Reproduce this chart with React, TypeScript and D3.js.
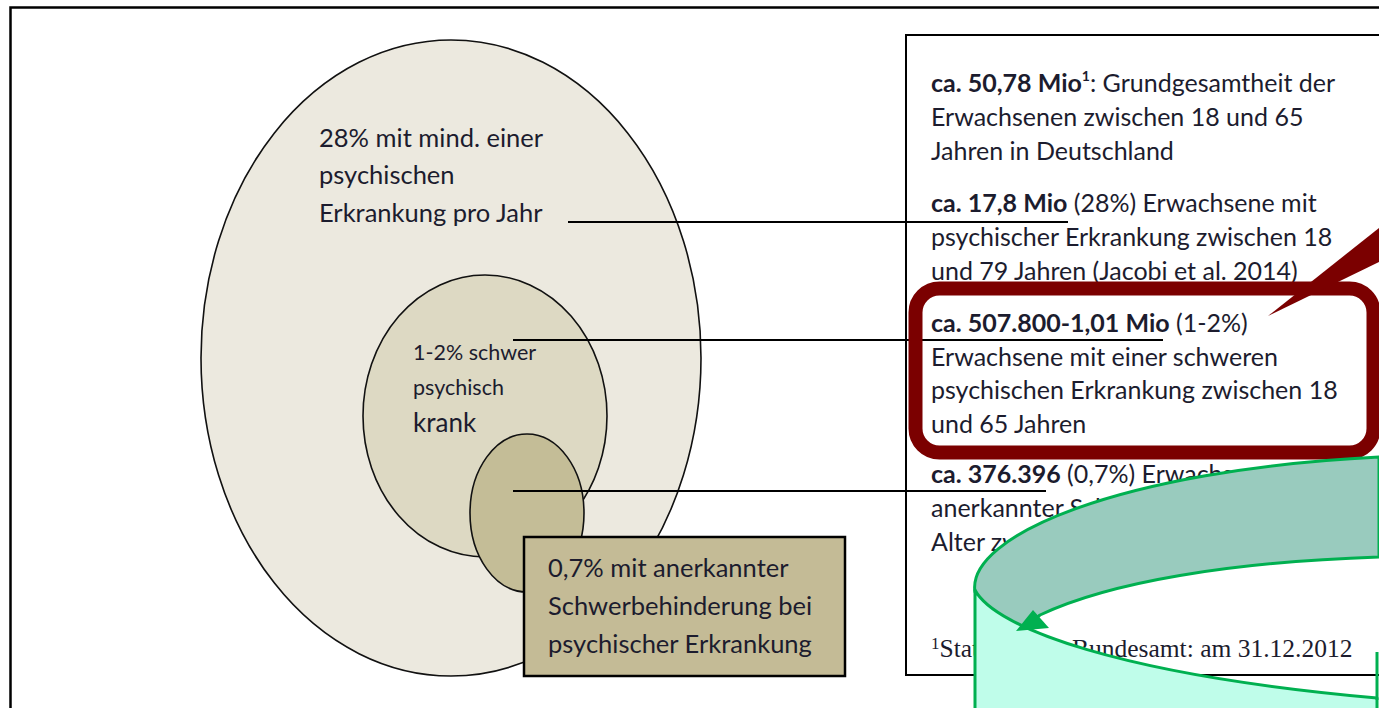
import React from 'react';
import * as d3 from 'd3';

// nested groups, outermost first
const circleLabels = [
  ['28% mit mind. einer', 'psychischen', 'Erkrankung pro Jahr'],
  ['1-2% schwer', 'psychisch', 'krank'],
  [],
];
const boxLabel = ['0,7% mit anerkannter', 'Schwerbehinderung bei', 'psychischer Erkrankung'];

const figures = ['ca. 50,78 Mio', 'ca. 17,8 Mio', 'ca. 507.800-1,01 Mio', 'ca. 376.396'];
const shares = ['', ' (28%)', ' (1-2%)', ' (0,7%)'];
const firstLineRest = [': Grundgesamtheit der', ' Erwachsene mit', '', ' Erwachsene mit'];
const moreLines = [
  ['Erwachsenen zwischen 18 und 65', 'Jahren in Deutschland'],
  ['psychischer Erkrankung zwischen 18', 'und 79 Jahren (Jacobi et al. 2014)'],
  ['Erwachsene mit einer schweren', 'psychischen Erkrankung zwischen 18', 'und 65 Jahren'],
  ['anerkannter Schwerbehinderung im', 'Alter zwischen 18 und 65 Jahren'],
];
const footnote = 'Statistisches Bundesamt: am 31.12.2012';

// layout
const ellipses = [
  { cx: 451, cy: 358, rx: 250, ry: 318, fill: '#ECE9DF' },
  { cx: 485, cy: 416, rx: 122, ry: 141, fill: '#DDD9C3' },
  { cx: 527, cy: 513, rx: 57, ry: 79, fill: '#C4BD97' },
];
const labelPos = [
  { x: 319, y: [147, 184, 222], size: [25.5, 25.5, 25.5] },
  { x: 413, y: [360, 395, 432], size: [21.5, 21.5, 26] },
];
const leaders = [
  { x1: 568, x2: 1068, y: 222 },
  { x1: 513, x2: 1163, y: 340 },
  { x1: 513, x2: 1046, y: 491 },
];
const blockTop = [92, 212, 332, 483];
const lineGap = 34;
const textColor = '#1C1C2E';
const font = 'Lato, "Open Sans", sans-serif';
const rightSize = 25;

export default function App() {
  const sansLines: JSX.Element[] = [];
  figures.forEach((f, i) => {
    const y0 = blockTop[i];
    sansLines.push(
      <text key={'h' + i} x={931} y={y0} fontSize={rightSize} fill={textColor} fontFamily={font}>
        <tspan fontWeight="bold">{f}</tspan>
        {i === 0 && <tspan fontWeight="bold" fontSize={14} dy={-11}>1</tspan>}
        {i === 0 ? <tspan dy={11}>{firstLineRest[i]}</tspan> : <tspan>{shares[i] + firstLineRest[i]}</tspan>}
      </text>
    );
    moreLines[i].forEach((l, j) => {
      sansLines.push(
        <text key={'l' + i + j} x={931} y={y0 + (j + 1) * (i === 2 ? 33.5 : lineGap)} fontSize={rightSize} fill={textColor} fontFamily={font}>{l}</text>
      );
    });
  });

  // red callout pointer
  const pointer = d3.line()([[1268, 316], [1379, 228], [1379, 262]]) + 'Z';

  // green curved ribbon arrow
  const band = d3.path();
  band.moveTo(975, 592);
  band.bezierCurveTo(966, 536, 1120, 470, 1379, 457);
  band.lineTo(1379, 557);
  band.bezierCurveTo(1230, 562, 1110, 582, 1040, 615);
  band.lineTo(1022, 630);
  band.bezierCurveTo(1000, 622, 985, 608, 975, 592);
  band.closePath();

  const front = d3.path();
  front.moveTo(975, 590);
  front.bezierCurveTo(995, 628, 1120, 675, 1377, 698);
  front.lineTo(1377, 712);
  front.lineTo(975, 712);
  front.closePath();

  const head = d3.line()([[1016, 631], [1033, 610], [1049, 628]]) + 'Z';

  return (
    <svg width={1379} height={708} style={{ position: 'absolute', left: 0, top: 0, background: '#fff' }}>
      <rect x={10.5} y={7.5} width={1400} height={720} fill="none" stroke="#000" strokeWidth={2.5} />

      {ellipses.map((e, i) => (
        <ellipse key={i} cx={e.cx} cy={e.cy} rx={e.rx} ry={e.ry} fill={e.fill} stroke="#111" strokeWidth={1.6} />
      ))}

      {circleLabels.map((lines, i) =>
        lines.map((l, j) => (
          <text key={i + '-' + j} x={labelPos[i].x} y={labelPos[i].y[j]} fontSize={labelPos[i].size[j]} fill={textColor} fontFamily={font}>{l}</text>
        ))
      )}

      <rect x={524} y={537} width={321} height={139} fill="#C4BB96" stroke="#000" strokeWidth={2.5} />
      {boxLabel.map((l, j) => (
        <text key={j} x={548} y={577 + j * 38} fontSize={25.5} fill={textColor} fontFamily={font}>{l}</text>
      ))}

      <rect x={906} y={35} width={500} height={640} fill="#fff" stroke="#000" strokeWidth={2} />
      {sansLines}
      <text x={931} y={657} fontSize={25.5} fill={textColor} fontFamily='"Liberation Serif", serif'>
        <tspan fontSize={17} dy={-8}>1</tspan>
        <tspan dy={8}>{footnote}</tspan>
      </text>

      {leaders.map((d, i) => (
        <line key={i} x1={d.x1} x2={d.x2} y1={d.y} y2={d.y} stroke="#000" strokeWidth={2} />
      ))}

      <rect x={915.5} y={288.5} width={458} height={164} rx={24} fill="none" stroke="#7B0000" strokeWidth={14} />
      <path d={pointer} fill="#7B0000" />

      <path d={band.toString()} fill="#99CBBE" stroke="#00B050" strokeWidth={3} strokeLinejoin="round" />
      <path d={front.toString()} fill="#BFFDEA" stroke="#00B050" strokeWidth={3} strokeLinejoin="round" />
      <path d={head} fill="#00B050" />
      <line x1={1377} x2={1377} y1={652} y2={700} stroke="#00B050" strokeWidth={3} />
    </svg>
  );
}
